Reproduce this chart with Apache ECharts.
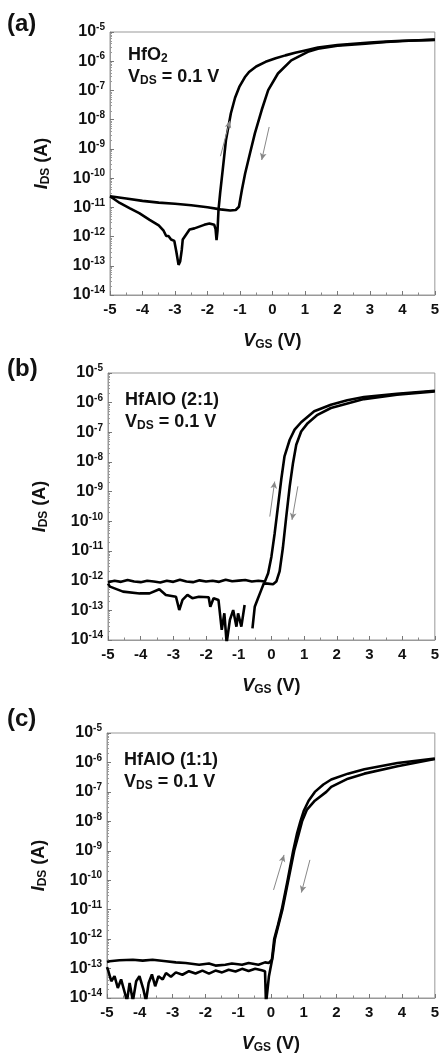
<!DOCTYPE html>
<html>
<head>
<meta charset="utf-8">
<script src="https://cdn.jsdelivr.net/npm/echarts@6/dist/echarts.min.js"></script>
<style>
html,body{margin:0;padding:0;background:#fff;}
#chart{width:442px;height:1056px;}
</style>
</head>
<body>
<div id="chart"></div>
<script>
// ---------- DATA (V_GS in V, log10 of I_DS in A) ----------
const xTicks = [-5,-4,-3,-2,-1,0,1,2,3,4,5];
const yTickExps = [-14,-13,-12,-11,-10,-9,-8,-7,-6,-5];
const panelLabels = ['(a)','(b)','(c)'];
const materials = ['HfO2','HfAlO (2:1)','HfAlO (1:1)'];

// Panel (a) HfO2
const aUpV   = [-5.0,-4.7,-4.4,-4.1,-3.78,-3.5,-3.35,-3.27,-3.2,-3.12,-3.02,-2.96,-2.89,-2.84,-2.79,-2.76,-2.65,-2.55,-2.4,-2.25,-2.1,-1.94,-1.79,-1.75,-1.72,-1.69,-1.66,-1.61,-1.53,-1.43,-1.28,-1.15,-1.02,-0.85,-0.72,-0.5,-0.21,0.1,0.4,0.7,1.01,1.4,2.0,2.5,3.0,3.5,4.0,4.5,5.0];
const aUpLog = [-10.62,-10.85,-11.03,-11.2,-11.43,-11.62,-11.8,-11.98,-11.98,-12.1,-12.15,-12.5,-12.97,-12.85,-12.45,-12.1,-11.92,-11.76,-11.72,-11.66,-11.6,-11.55,-11.6,-11.75,-12.12,-11.8,-11.09,-10.52,-9.72,-8.7,-7.79,-7.25,-6.88,-6.55,-6.37,-6.18,-6.02,-5.9,-5.8,-5.71,-5.63,-5.53,-5.45,-5.4,-5.36,-5.33,-5.3,-5.28,-5.26];
const aDnV   = [-5.0,-4.5,-4.0,-3.5,-3.0,-2.5,-2.0,-1.6,-1.3,-1.13,-1.03,-0.94,-0.84,-0.69,-0.54,-0.33,-0.13,0.17,0.58,1.09,1.4,2.0,2.86,3.5,4.2,5.0];
const aDnLog = [-10.62,-10.7,-10.78,-10.84,-10.88,-10.93,-11.0,-11.07,-11.11,-11.09,-10.98,-10.41,-9.84,-9.15,-8.47,-7.67,-6.99,-6.42,-5.97,-5.68,-5.57,-5.47,-5.4,-5.34,-5.3,-5.27];

// Panel (b) HfAlO (2:1)
const bUpV   = [-5.0,-4.8,-4.6,-4.4,-4.2,-4.0,-3.8,-3.6,-3.4,-3.2,-3.0,-2.8,-2.6,-2.4,-2.2,-2.0,-1.8,-1.6,-1.4,-1.2,-1.0,-0.8,-0.6,-0.4,-0.2,-0.1,0.0,0.1,0.2,0.3,0.4,0.56,0.71,0.91,1.31,1.82,2.32,2.83,3.84,5.0];
const bUpLog = [-12.05,-12.0,-12.04,-11.98,-12.03,-12.05,-12.0,-12.03,-12.06,-12.0,-12.04,-11.97,-12.03,-12.05,-11.99,-12.03,-12.0,-12.04,-11.97,-12.02,-12.0,-11.98,-12.03,-12.0,-12.03,-11.75,-11.19,-10.4,-9.5,-8.6,-7.81,-7.25,-6.91,-6.66,-6.29,-6.07,-5.92,-5.81,-5.7,-5.6];
const bDnV   = [-5.0,-4.94,-4.54,-4.03,-3.73,-3.43,-3.23,-2.92,-2.82,-2.72,-2.57,-2.42,-2.22,-1.92,-1.87,-1.77,-1.62,-1.52,-1.44,-1.37,-1.27,-1.17,-1.07,-1.02,-0.92,-0.82,-0.7,-0.58,-0.51,-0.41,-0.31,-0.23,-0.11,0.05,0.15,0.25,0.35,0.45,0.56,0.66,0.76,0.91,1.11,1.41,1.82,2.83,3.84,5.0];
const bDnLog = [-12.1,-12.2,-12.37,-12.43,-12.43,-12.29,-12.48,-12.54,-12.99,-12.65,-12.48,-12.59,-12.54,-12.56,-12.88,-12.59,-12.65,-13.66,-13.1,-14.1,-13.32,-12.99,-13.55,-13.1,-13.55,-12.82,null,-13.61,-12.88,-12.59,-12.31,-12.09,-12.1,-12.12,-12.03,-11.69,-10.9,-9.88,-8.82,-8.04,-7.42,-6.97,-6.69,-6.41,-6.18,-5.88,-5.73,-5.62];

// Panel (c) HfAlO (1:1)
const cUpV   = [-5.0,-4.92,-4.62,-4.21,-3.91,-3.61,-3.2,-2.9,-2.6,-2.19,-1.89,-1.69,-1.39,-1.19,-0.88,-0.68,-0.38,-0.18,-0.06,0.03,0.1,0.22,0.33,0.51,0.68,0.8,0.9,1.0,1.15,1.34,1.6,1.84,2.35,2.85,3.86,5.0];
const cUpLog = [-12.78,-12.75,-12.72,-12.7,-12.73,-12.7,-12.75,-12.79,-12.81,-12.87,-12.83,-12.9,-12.87,-12.83,-12.87,-12.81,-12.87,-12.79,-12.81,-12.7,-12.0,-11.5,-11.0,-10.0,-9.0,-8.4,-8.0,-7.65,-7.3,-7.0,-6.75,-6.58,-6.38,-6.23,-6.02,-5.87];
const cDnV   = [-5.0,-4.97,-4.87,-4.77,-4.67,-4.57,-4.47,-4.39,-4.31,-4.21,-4.11,-4.01,-3.89,-3.81,-3.73,-3.63,-3.53,-3.43,-3.3,-3.2,-3.05,-2.9,-2.7,-2.5,-2.3,-2.09,-1.89,-1.69,-1.49,-1.29,-1.08,-0.88,-0.68,-0.48,-0.28,-0.18,-0.15,-0.1,-0.06,0.05,0.12,0.35,0.53,0.71,0.83,0.95,1.1,1.34,1.69,1.84,2.35,2.85,3.86,5.0];
const cDnLog = [-12.95,-13.04,-13.43,-13.26,-13.66,-13.37,-13.77,-14.1,-13.49,-14.1,-13.43,-13.26,-13.71,-14.1,-13.49,-13.2,-13.6,-13.26,-13.37,-13.15,-13.28,-13.13,-13.21,-13.09,-13.17,-13.07,-13.17,-13.07,-13.13,-13.04,-13.1,-13.01,-13.08,-13.01,-13.06,-13.09,-14.2,-14.2,-13.26,-12.62,-12.0,-11.0,-10.0,-9.0,-8.5,-8.0,-7.6,-7.3,-7.0,-6.83,-6.55,-6.38,-6.13,-5.88];

// sweep-direction arrows: [V1, log1, V2, log2]
const arrowsA = [[-1.6,-9.25,-1.31,-8.04],[-0.1,-8.25,-0.33,-9.38]];
const arrowsB = [[-0.05,-9.84,0.1,-8.66],[0.81,-8.82,0.63,-9.95]];
const arrowsC = [[0.08,-10.33,0.40,-9.14],[1.19,-9.31,0.93,-10.42]];

// ---------- BUILD ----------
const FONT = '"Liberation Sans", Arial, Helvetica, sans-serif';
function pts(vs, logs){
  return vs.map((v,i)=> logs[i]===null ? [v,'-'] : [v, Math.pow(10, logs[i])]);
}
const grids = [
  {left:110, top:32, width:327, height:263},
  {left:108, top:373, width:330, height:267},
  {left:107, top:733, width:331, height:265}
];
const labelTops = [12, 357, 707];
const noteTops = [44, 389, 749];
const noteLefts = [128, 125, 124];
const panelData = [
  [pts(aUpV,aUpLog), pts(aDnV,aDnLog), arrowsA],
  [pts(bUpV,bUpLog), pts(bDnV,bDnLog), arrowsB],
  [pts(cUpV,cUpLog), pts(cDnV,cDnLog), arrowsC]
];

const supRich = {
  b:{fontSize:16, fontWeight:'bold', fontFamily:FONT, color:'#111'},
  s:{fontSize:10, fontWeight:'bold', fontFamily:FONT, color:'#111', padding:[0,0,9,0]}
};
const nameRich = {
  i:{fontSize:18, fontWeight:'bold', fontStyle:'italic', fontFamily:FONT, color:'#111'},
  sub:{fontSize:12, fontWeight:'bold', fontFamily:FONT, color:'#111', padding:[8,0,0,0]},
  n:{fontSize:18, fontWeight:'bold', fontFamily:FONT, color:'#111'}
};

const xAxis = [], yAxis = [], series = [], title = [];
grids.forEach((g,k)=>{
  g.show = true; g.borderColor = '#999'; g.borderWidth = 1;
  xAxis.push({
    type:'value', gridIndex:k, min:-5, max:5, interval:1,
    axisLine:{show:true, onZero:false, lineStyle:{color:'#999'}},
    axisTick:{show:true, inside:true, length:4, lineStyle:{color:'#777'}},
    minorTick:{show:true, splitNumber:2, length:2.5, lineStyle:{color:'#888'}},
    splitLine:{show:false},
    axisLabel:{margin:7, color:'#111', fontSize:15, fontWeight:'bold', fontFamily:FONT,
      formatter:(v)=> xTicks.includes(v) ? String(v) : ''},
    name:'{i|V}{sub|GS}{n| (V)}', nameLocation:'middle', nameGap:36,
    nameTextStyle:{rich:nameRich}
  });
  yAxis.push({
    type:'log', logBase:10, gridIndex:k, min:1e-14, max:1e-5,
    axisLine:{show:true, onZero:false, lineStyle:{color:'#999'}},
    axisTick:{show:true, inside:true, length:4, lineStyle:{color:'#777'}},
    minorTick:{show:true, splitNumber:9, length:2, lineStyle:{color:'#999'}},
    splitLine:{show:false},
    axisLabel:{margin:5, fontFamily:FONT, rich:supRich,
      formatter:(v)=>{ const e = Math.round(Math.log10(v)); return yTickExps.includes(e) ? '{b|10}{s|'+e+'}' : ''; }},
    name:'{i|I}{sub|DS}{n| (A)}', nameLocation:'middle', nameGap:58,
    nameTextStyle:{rich:nameRich}
  });
  const [up, dn, arr] = panelData[k];
  const arrowLines = arr.map(a=>[
    {coord:[a[0], Math.pow(10,a[1])]},
    {coord:[a[2], Math.pow(10,a[3])]}
  ]);
  series.push({
    type:'line', xAxisIndex:k, yAxisIndex:k, data:dn, showSymbol:false, symbol:'none',
    lineStyle:{color:'#000', width:2.6}, clip:true, connectNulls:false, animation:false,
    z:3
  });
  series.push({
    type:'line', xAxisIndex:k, yAxisIndex:k, data:up, showSymbol:false, symbol:'none',
    lineStyle:{color:'#000', width:2.6}, clip:true, animation:false, z:4,
    markLine:{silent:true, animation:false, symbol:['none','arrow'], symbolSize:[5,7],
      label:{show:false}, lineStyle:{color:'#888', width:1, type:'solid'}, data:arrowLines}
  });
  title.push({
    text:panelLabels[k], left:7, top:labelTops[k], padding:0,
    textStyle:{fontSize:24, fontWeight:'bold', fontFamily:FONT, color:'#111', lineHeight:24}
  });
  const matTxt = k===0 ? '{m|HfO}{sub|2}' : '{m|'+materials[k]+'}';
  title.push({
    text: matTxt + '\n{m|V}{sub|DS}{m| = 0.1 V}',
    left: noteLefts[k], top: noteTops[k], padding:0,
    textStyle:{rich:{
      m:{fontSize:18, fontWeight:'bold', fontFamily:FONT, color:'#111', lineHeight:22},
      sub:{fontSize:12, fontWeight:'bold', fontFamily:FONT, color:'#111', padding:[8,0,0,0], lineHeight:22}
    }}
  });
});

const chart = echarts.init(document.getElementById('chart'), null, {renderer:'canvas'});
chart.setOption({
  animation:false, backgroundColor:'#fff',
  title, grid:grids, xAxis, yAxis, series
});
</script>
</body>
</html>
